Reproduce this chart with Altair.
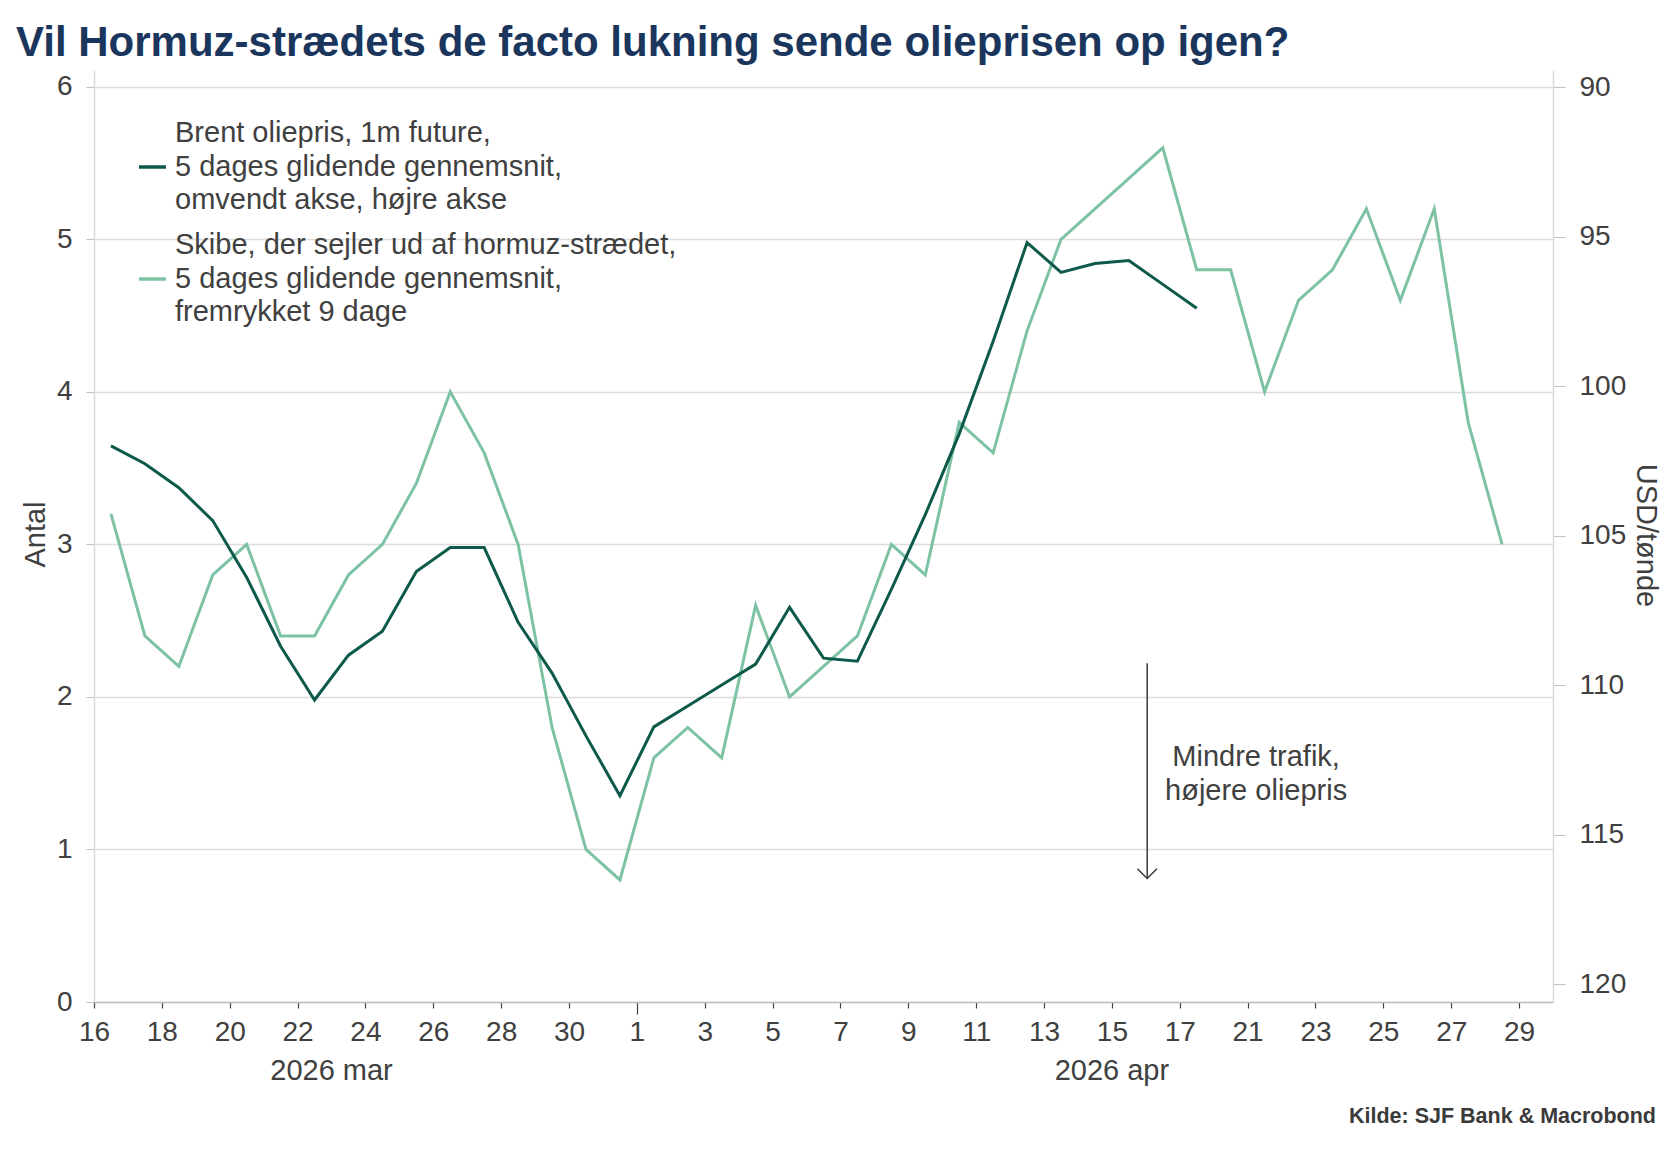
import altair as alt
import pandas as pd

FONT = "Liberation Sans"
TXT = "#404040"
DARK = "#0d5a4b"
LIGHT = "#7dc2a3"

title_text = "Vil Hormuz-strædets de facto lukning sende olieprisen op igen?"
source_text = "Kilde: SJF Bank & Macrobond"

# Trading days shown on the (gapped) date axis, one slot each
dates = (
    ["2026-03-16", "2026-03-17", "2026-03-18", "2026-03-19", "2026-03-20", "2026-03-21",
     "2026-03-22", "2026-03-23", "2026-03-24", "2026-03-25", "2026-03-26", "2026-03-27",
     "2026-03-28", "2026-03-29", "2026-03-30", "2026-03-31",
     "2026-04-01", "2026-04-02", "2026-04-03", "2026-04-04", "2026-04-05", "2026-04-06",
     "2026-04-07", "2026-04-08", "2026-04-09", "2026-04-10", "2026-04-11", "2026-04-12",
     "2026-04-13", "2026-04-14", "2026-04-15", "2026-04-16", "2026-04-17",
     "2026-04-20",
     "2026-04-21", "2026-04-22", "2026-04-23", "2026-04-24", "2026-04-25", "2026-04-26",
     "2026-04-27", "2026-04-28"]
)

# Ships leaving the Strait of Hormuz, 5d MA, shifted 9 days (left axis)
ships = [3.2, 2.4, 2.2, 2.8, 3.0, 2.4, 2.4, 2.8, 3.0, 3.4, 4.0, 3.6, 3.0, 1.8, 1.0, 0.8,
         1.6, 1.8, 1.6, 2.6, 2.0, 2.2, 2.4, 3.0, 2.8, 3.8, 3.6, 4.4, 5.0, 5.2, 5.4, 5.6,
         4.8, 4.8, 4.0, 4.6, 4.8, 5.2, 4.6, 5.2, 3.8, 3.0]

# Brent 1m future, 5d MA (right axis, inverted)
brent = [102.0, 102.6, 103.4, 104.5, 106.4, 108.7, 110.5, 109.0, 108.2, 106.2, 105.4,
         105.4, 107.9, 109.6, 111.7, 113.7, 111.4, 110.7, 110.0, 109.3, 107.4, 109.1,
         109.2, 106.8, 104.3, 101.6, 98.5, 95.2, 96.2, 95.9, 95.8, 96.6, 97.4]

tick_labels = ["16", "18", "20", "22", "24", "26", "28", "30", "1", "3", "5", "7", "9",
               "11", "13", "15", "17", "21", "23", "25", "27", "29"]
month_labels = ["2026 mar", "2026 apr"]
month_pos = [7.0, 30.0]

legend_dark = ["Brent oliepris, 1m future,", "5 dages glidende gennemsnit,",
               "omvendt akse, højre akse"]
legend_light = ["Skibe, der sejler ud af hormuz-strædet,", "5 dages glidende gennemsnit,",
                "fremrykket 9 dage"]
annot_text = "Mindre trafik,\nhøjere oliepris"

W, H = 1459, 932
left_dom = [0, 6.11]
right_dom = [89.43, 120.6]

ship_df = pd.DataFrame({"date": dates, "ships": ships})
ship_df["pos"] = ship_df.index + 0.5
oil_df = pd.DataFrame({"date": dates[: len(brent)], "brent": brent})
oil_df["pos"] = oil_df.index + 0.5

label_arr = "[" + ",".join(f"'{t}'" for t in tick_labels) + "]"

x_enc = alt.X(
    "pos:Q",
    scale=alt.Scale(domain=[0, 43], nice=False, zero=False),
    axis=alt.Axis(
        values=list(range(0, 43, 2)),
        labelExpr=f"{label_arr}[round(datum.value/2)]",
        labelFlush=False,
        labelOverlap=False,
        grid=False,
        domainColor="#bfbfbf",
        domainWidth=1.5,
        tickColor=TXT,
        tickWidth=1.2,
        tickSize={"condition": {"test": "datum.value == 16", "value": 12}, "value": 6},
        labelPadding={"condition": {"test": "datum.value == 16", "value": 4}, "value": 10},
        labelFont=FONT,
        labelFontSize=28,
        labelColor=TXT,
        title=None,
    ),
)

ship_line = alt.Chart(ship_df).mark_line(color=LIGHT, strokeWidth=3).encode(
    x=x_enc,
    y=alt.Y(
        "ships:Q",
        scale=alt.Scale(domain=left_dom, nice=False, zero=False),
        axis=alt.Axis(
            values=[0, 1, 2, 3, 4, 5, 6],
            grid=True,
            gridColor="#dcdcdc",
            gridWidth=1.5,
            domainColor="#d9d9d9",
            domainWidth=1.5,
            tickColor="#bfbfbf",
            tickSize=8,
            labelPadding=14,
            labelFont=FONT,
            labelFontSize=28,
            labelColor=TXT,
            title="Antal",
            titleFont=FONT,
            titleFontSize=29,
            titleFontWeight="normal",
            titleColor=TXT,
            titleX=-59,
            titleY=464,
            titleAngle=270,
            titleAlign="center",
            titleBaseline="middle",
        ),
    ),
)

oil_line = alt.Chart(oil_df).mark_line(color=DARK, strokeWidth=3).encode(
    x=alt.X("pos:Q"),
    y=alt.Y(
        "brent:Q",
        scale=alt.Scale(domain=right_dom, reverse=True, nice=False, zero=False),
        axis=alt.Axis(
            orient="right",
            values=[90, 95, 100, 105, 110, 115, 120],
            grid=False,
            domainColor="#d9d9d9",
            domainWidth=1.5,
            tickColor="#bfbfbf",
            tickSize=12,
            labelPadding=14,
            labelFont=FONT,
            labelFontSize=28,
            labelColor=TXT,
            title="USD/tønde",
            titleFont=FONT,
            titleFontSize=29,
            titleFontWeight="normal",
            titleColor=TXT,
            titleX=92,
            titleY=465,
            titleAngle=90,
            titleAlign="center",
            titleBaseline="middle",
        ),
    ),
)

left_scale = alt.Scale(domain=left_dom, nice=False, zero=False)

# Annotation arrow
arrow_df = pd.DataFrame({"x": [31.04], "y1": [2.22], "y2": [0.81]})
arrow_rule = alt.Chart(arrow_df).mark_rule(color="#3a3a3a", strokeWidth=1.5).encode(
    x=alt.X("x:Q"),
    y=alt.Y("y1:Q", scale=left_scale, axis=None),
    y2="y2:Q",
)
arrow_head = alt.Chart(arrow_df).mark_point(
    shape="M-1,-1L0,0L1,-1", filled=False, color="#3a3a3a", strokeWidth=1.5, size=380, opacity=1
).encode(
    x=alt.X("x:Q"),
    y=alt.Y("y2:Q", scale=left_scale, axis=None),
)

annot_df = pd.DataFrame({"x": [34.25], "y": [1.607], "t": [annot_text]})
annot = alt.Chart(annot_df).mark_text(
    font=FONT, fontSize=29, color=TXT, align="center", baseline="middle",
    lineBreak="\n", lineHeight=34,
).encode(
    x=alt.X("x:Q"),
    y=alt.Y("y:Q", scale=left_scale, axis=None),
    text="t:N",
)

# Month labels below the axis
month_df = pd.DataFrame({"x": month_pos, "t": month_labels})
months = alt.Chart(month_df).mark_text(
    font=FONT, fontSize=29, color=TXT, align="center", baseline="middle"
).encode(x=alt.X("x:Q"), y=alt.value(H + 69), text="t:N")

# Legend
one = pd.DataFrame({"k": [0]})
leg_dark_line = alt.Chart(one).mark_rule(color=DARK, strokeWidth=3.5).encode(
    x=alt.value(45), x2=alt.value(72), y=alt.value(97)
)
leg_light_line = alt.Chart(one).mark_rule(color=LIGHT, strokeWidth=3.5).encode(
    x=alt.value(45), x2=alt.value(72), y=alt.value(209)
)
leg_dark_text = alt.Chart(one).mark_text(
    font=FONT, fontSize=29, color=TXT, align="left", baseline="middle",
    lineBreak="\n", lineHeight=33.5, text="\n".join(legend_dark),
).encode(x=alt.value(81), y=alt.value(63))
leg_light_text = alt.Chart(one).mark_text(
    font=FONT, fontSize=29, color=TXT, align="left", baseline="middle",
    lineBreak="\n", lineHeight=33.5, text="\n".join(legend_light),
).encode(x=alt.value(81), y=alt.value(175))

title = alt.Chart(one).mark_text(
    font=FONT, fontSize=42, fontWeight="bold", color="#1b365d", align="left",
    baseline="middle", text=title_text,
).encode(x=alt.value(-78), y=alt.value(-27))

source = alt.Chart(one).mark_text(
    font=FONT, fontSize=21.5, fontWeight="bold", color="#3a3a3a", align="right",
    baseline="middle", text=source_text,
).encode(x=alt.value(1562), y=alt.value(1047))

chart = (
    alt.layer(
        ship_line, arrow_rule, arrow_head, annot, months,
        leg_dark_line, leg_light_line, leg_dark_text, leg_light_text,
        title, source, oil_line,
    )
    .resolve_scale(y="independent")
    .properties(
        width=W,
        height=H,
        autosize=alt.AutoSizeParams(type="none"),
        padding={"left": 94, "top": 70, "right": 127, "bottom": 153},
        background="white",
    )
    .configure_view(stroke=None)
)

chart.save("out.html", embed_options={"renderer": "svg", "actions": False})
